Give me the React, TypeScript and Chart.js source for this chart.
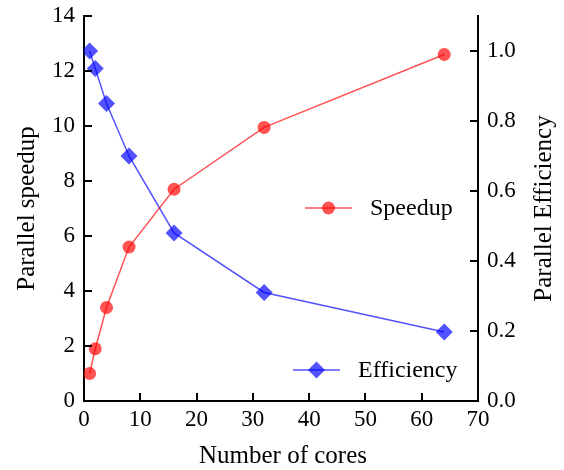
import React, { useEffect, useRef } from "react";
import { Chart, registerables } from "chart.js";

Chart.register(...registerables);

const cores = [1, 2, 4, 8, 16, 32, 64];
const speedup = [1.0, 1.9, 3.4, 5.6, 7.7, 9.95, 12.6];
const efficiency = [1.0, 0.95, 0.85, 0.7, 0.48, 0.31, 0.197];
const xTicks = [0, 10, 20, 30, 40, 50, 60, 70];
const leftTicks = [0, 2, 4, 6, 8, 10, 12, 14];
const rightTicks = [0, 0.2, 0.4, 0.6, 0.8, 1.0];

const FONT = "'Liberation Serif', serif";
const RED = "rgba(255,0,0,0.68)";
const BLUE = "rgba(0,0,255,0.68)";

export default function App() {
  const ref = useRef<HTMLCanvasElement | null>(null);
  useEffect(() => {
    document.body.style.margin = "0";
    const canvas = ref.current;
    if (!canvas) return;

    const decor = {
      id: "decor",
      afterDraw(chart: any) {
        const ctx = chart.ctx;
        const area = chart.chartArea;
        ctx.save();
        // inward ticks
        ctx.strokeStyle = "#000";
        ctx.lineWidth = 2;
        const L = 8;
        const xs = chart.scales.x;
        xs.ticks.forEach((t: any) => {
          const p = Math.round(xs.getPixelForValue(t.value));
          ctx.beginPath();
          ctx.moveTo(p, area.bottom);
          ctx.lineTo(p, area.bottom - L);
          ctx.stroke();
        });
        const ys = chart.scales.y;
        ys.ticks.forEach((t: any) => {
          const p = Math.round(ys.getPixelForValue(t.value));
          ctx.beginPath();
          ctx.moveTo(area.left, p);
          ctx.lineTo(area.left + L, p);
          ctx.stroke();
        });
        const y1 = chart.scales.y1;
        y1.ticks.forEach((t: any) => {
          const p = Math.round(y1.getPixelForValue(t.value));
          ctx.beginPath();
          ctx.moveTo(area.right, p);
          ctx.lineTo(area.right - L, p);
          ctx.stroke();
        });
        // axis titles
        ctx.fillStyle = "#000";
        ctx.font = `25px ${FONT}`;
        ctx.textAlign = "center";
        ctx.textBaseline = "middle";
        ctx.fillText("Number of cores", (area.left + area.right) / 2 + 2, 456);
        ctx.save();
        ctx.translate(27, (area.top + area.bottom) / 2);
        ctx.rotate(-Math.PI / 2);
        ctx.fillText("Parallel speedup", 0, 0);
        ctx.restore();
        ctx.save();
        ctx.translate(544, (area.top + area.bottom) / 2);
        ctx.rotate(-Math.PI / 2);
        ctx.fillText("Parallel Efficiency", 0, 0);
        ctx.restore();
        // legends
        const drawLegend = (x0: number, y: number, color: string, marker: string, label: string) => {
          ctx.strokeStyle = color;
          ctx.lineWidth = 1.5;
          ctx.beginPath();
          ctx.moveTo(x0, y);
          ctx.lineTo(x0 + 47, y);
          ctx.stroke();
          ctx.fillStyle = color;
          const cx = x0 + 23.5;
          ctx.beginPath();
          if (marker === "circle") {
            ctx.arc(cx, y, 6.5, 0, Math.PI * 2);
          } else {
            const r = 8.5;
            ctx.moveTo(cx, y - r);
            ctx.lineTo(cx + r, y);
            ctx.lineTo(cx, y + r);
            ctx.lineTo(cx - r, y);
            ctx.closePath();
          }
          ctx.fill();
          ctx.fillStyle = "#000";
          ctx.textAlign = "left";
          ctx.textBaseline = "middle";
          ctx.font = `24px ${FONT}`;
          ctx.fillText(label, x0 + 65, y + 1);
        };
        drawLegend(305, 208, RED, "circle", "Speedup");
        drawLegend(293, 370, BLUE, "diamond", "Efficiency");
        ctx.restore();
      },
    };

    const tickFont = { family: FONT, size: 23 };
    const noPadV = (s: any) => {
      s.paddingTop = 0;
      s.paddingBottom = 0;
    };

    const chart = new Chart(canvas, {
      type: "line",
      data: {
        datasets: [
          {
            label: "Speedup",
            data: cores.map((c, i) => ({ x: c, y: speedup[i] })),
            yAxisID: "y",
            borderColor: RED,
            backgroundColor: RED,
            borderWidth: 1.5,
            pointStyle: "circle",
            pointRadius: 6.5,
            pointBorderWidth: 0,
            pointHoverRadius: 6.5,
          },
          {
            label: "Efficiency",
            data: cores.map((c, i) => ({ x: c, y: efficiency[i] })),
            yAxisID: "y1",
            borderColor: BLUE,
            backgroundColor: BLUE,
            borderWidth: 1.5,
            pointStyle: "rectRot",
            pointRadius: 8.5,
            pointBorderWidth: 0,
            pointHoverRadius: 8.5,
          },
        ],
      },
      options: {
        animation: false,
        responsive: false,
        events: [],
        layout: { padding: { top: 16, left: 0, right: 0, bottom: 0 } },
        plugins: { legend: { display: false }, tooltip: { enabled: false } },
        scales: {
          x: {
            type: "linear",
            min: 0,
            max: 70,
            afterFit: (s: any) => {
              s.height = 69;
              s.paddingLeft = 0;
              s.paddingRight = 0;
            },
            afterBuildTicks: (s: any) => {
              s.ticks = xTicks.map((v) => ({ value: v }));
            },
            grid: { display: false, drawTicks: false },
            border: { display: true, color: "#000", width: 2 },
            ticks: { font: tickFont, color: "#000", padding: 5, maxRotation: 0 },
          },
          y: {
            type: "linear",
            position: "left",
            min: 0,
            max: 14,
            afterFit: (s: any) => {
              s.width = 84;
              noPadV(s);
            },
            afterBuildTicks: (s: any) => {
              s.ticks = leftTicks.map((v) => ({ value: v }));
            },
            grid: { display: false, drawTicks: false },
            border: { display: true, color: "#000", width: 2 },
            ticks: { font: tickFont, color: "#000", padding: 9 },
          },
          y1: {
            type: "linear",
            position: "right",
            min: 0,
            max: 1.1,
            afterFit: (s: any) => {
              s.width = 86;
              noPadV(s);
            },
            afterBuildTicks: (s: any) => {
              s.ticks = rightTicks.map((v) => ({ value: v }));
            },
            grid: { display: false, drawTicks: false },
            border: { display: true, color: "#000", width: 2 },
            ticks: {
              font: tickFont,
              color: "#000",
              padding: 9,
              callback: (v: any) => Number(v).toFixed(1),
            },
          },
        },
      },
      plugins: [decor],
    });
    return () => chart.destroy();
  }, []);
  return (
    <div style={{ width: 564, height: 470 }}>
      <canvas ref={ref} width={564} height={470} style={{ display: "block" }} />
    </div>
  );
}
